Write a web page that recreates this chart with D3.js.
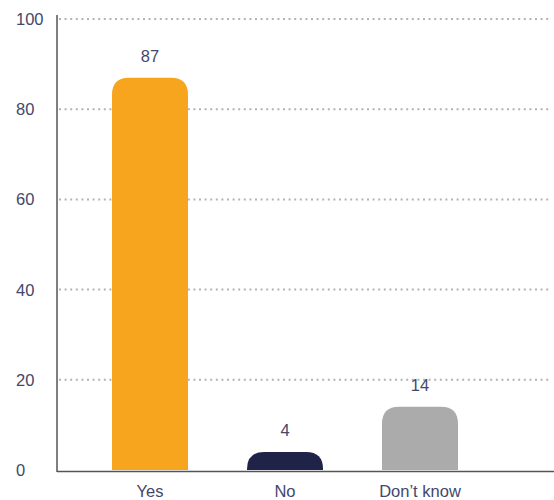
<!DOCTYPE html>
<html>
<head>
<meta charset="utf-8">
<script src="https://cdn.jsdelivr.net/npm/d3@7"></script>
<style>
  body { margin: 0; background: #fff; }
  text { font-family: "Liberation Sans", Arial, sans-serif; }
</style>
</head>
<body>
<div id="chart"></div>
<script>
const categories = ['Yes', 'No', 'Don\u2019t know'];
const values = [87, 4, 14];
const colors = ['#F7A51E', '#1F2348', '#ABABAB'];
const yTicks = [0, 20, 40, 60, 80, 100];

const width = 554;
const height = 500;
const axisX = 57;
const textColor = '#43476b';

const svg = d3.select('#chart')
  .append('svg')
  .attr('width', width)
  .attr('height', height);

const y = d3.scaleLinear().domain([0, 100]).range([470, 19]);
const x = d3.scaleBand()
  .domain(categories)
  .range([82.5, 487.5])
  .paddingInner(0.437)
  .paddingOuter(0.2185);

// gridlines
svg.append('g')
  .selectAll('line')
  .data(yTicks.filter(d => d > 0))
  .join('line')
  .attr('x1', axisX + 2)
  .attr('x2', 550)
  .attr('y1', d => y(d))
  .attr('y2', d => y(d))
  .attr('stroke', '#b3b3b3')
  .attr('stroke-width', 2)
  .attr('stroke-dasharray', '2 3.6');

// tick labels
svg.append('g')
  .selectAll('text')
  .data(yTicks)
  .join('text')
  .attr('x', 16)
  .attr('y', d => y(d) + 6)
  .attr('fill', textColor)
  .attr('font-size', 16.5)
  .text(d => d);

// bars with rounded tops
const r = 17;
function barPath(d, i) {
  const x0 = x(categories[i]);
  const x1 = x0 + x.bandwidth();
  const y0 = y(0);
  const yt = y(d);
  const rr = Math.min(r, (y0 - yt));
  return `M${x0},${y0} V${yt + rr} Q${x0},${yt} ${x0 + rr},${yt} H${x1 - rr} Q${x1},${yt} ${x1},${yt + rr} V${y0} Z`;
}

svg.append('g')
  .selectAll('path')
  .data(values)
  .join('path')
  .attr('d', barPath)
  .attr('fill', (d, i) => colors[i]);

// value labels
svg.append('g')
  .selectAll('text')
  .data(values)
  .join('text')
  .attr('x', (d, i) => x(categories[i]) + x.bandwidth() / 2)
  .attr('y', d => y(d) - 16)
  .attr('text-anchor', 'middle')
  .attr('fill', textColor)
  .attr('font-size', 16.5)
  .text(d => d);

// category labels
svg.append('g')
  .selectAll('text')
  .data(categories)
  .join('text')
  .attr('x', d => x(d) + x.bandwidth() / 2)
  .attr('y', 497)
  .attr('text-anchor', 'middle')
  .attr('fill', textColor)
  .attr('font-size', 16.5)
  .text(d => d);

// axes lines
svg.append('line')
  .attr('x1', axisX).attr('x2', axisX)
  .attr('y1', 15).attr('y2', 472)
  .attr('stroke', '#555').attr('stroke-width', 1.5);

svg.append('line')
  .attr('x1', axisX).attr('x2', width)
  .attr('y1', 471.5).attr('y2', 471.5)
  .attr('stroke', '#555').attr('stroke-width', 1.5);
</script>
</body>
</html>
